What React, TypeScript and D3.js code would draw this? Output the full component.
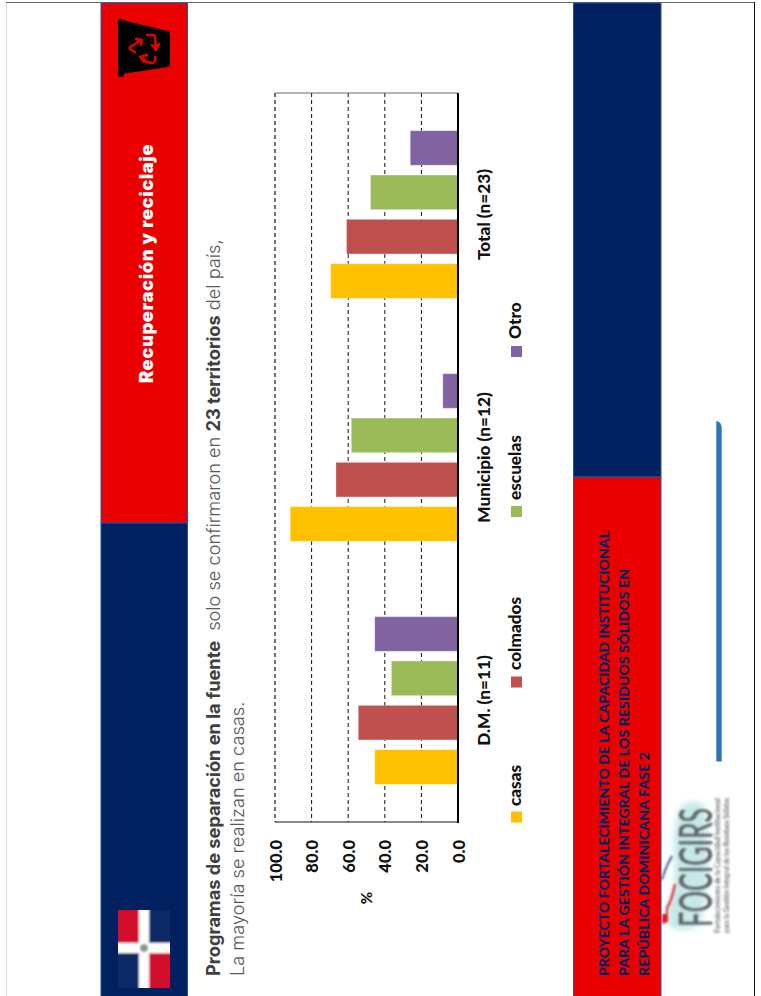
import React from "react";
import * as d3 from "d3";

const categories = ["D.M. (n=11)", "Municipio (n=12)", "Total (n=23)"];
const seriesNames = ["casas", "colmados", "escuelas", "Otro"];
const casas = [45.5, 91.7, 69.6];
const colmados = [54.5, 66.7, 60.9];
const escuelas = [36.4, 58.3, 47.8];
const otro = [45.5, 8.3, 26.1];
const seriesValues = [casas, colmados, escuelas, otro];
const seriesColors = ["#ffc000", "#c0504d", "#9bbb59", "#8064a2"];
const tickValues = [0, 20, 40, 60, 80, 100];
const legendPositions = [
  { swatch: 817, text: 806 },
  { swatch: 682, text: 670 },
  { swatch: 511.5, text: 500 },
  { swatch: 351.5, text: 339 },
];
const footerLines = [
  "PROYECTO FORTALECIMIENTO DE LA CAPACIDAD INSTITUCIONAL",
  "PARA LA GESTIÓN INTEGRAL DE LOS RESIDUOS SÓLIDOS EN",
  "REPÚBLICA DOMINICANA FASE 2",
];
const footerWidths = [445, 407, 224];

const RED = "#eb0000";
const NAVY = "#002060";
const EDGE = "#2f5597";
const LABEL_FONT = "Lato, Carlito, sans-serif";
const HEAD_FONT = "Inter, 'Open Sans', sans-serif";

// Vertical (page-rotated) text: reads bottom to top, anchored at (x, y).
const rot = (x: number, y: number) => `translate(${x},${y}) rotate(-90)`;

export default function App() {
  const x = d3.scaleLinear().domain([0, 100]).range([458, 275]);
  const group = d3.scaleBand().domain(categories).range([822, 93]);
  const inner = d3
    .scaleBand()
    .domain(seriesNames)
    .range([group.bandwidth(), 0])
    .paddingInner(0.22)
    .paddingOuter(0.85);

  return (
    <svg
      width={761}
      height={996}
      style={{ position: "absolute", left: 0, top: 0, background: "#fff" }}
    >
      <defs>
        <filter id="soft" x="-10%" y="-10%" width="120%" height="120%">
          <feGaussianBlur stdDeviation="0.8" />
        </filter>
        <filter id="flagBlur" x="-10%" y="-10%" width="120%" height="120%">
          <feGaussianBlur stdDeviation="1.1" />
        </filter>
        <filter id="softer" x="-20%" y="-20%" width="140%" height="140%">
          <feGaussianBlur stdDeviation="3" />
        </filter>
        <clipPath id="flagClip">
          <rect x={118} y={910} width={52} height={78} />
        </clipPath>
      </defs>

      {/* page frame */}
      <line x1={6.5} x2={6.5} y1={2} y2={996} stroke="#d9d9d9" />
      <line x1={6} x2={755} y1={2.5} y2={2.5} stroke="#666" />
      <line x1={754.5} x2={754.5} y1={2} y2={996} stroke="#111" />

      {/* left band */}
      <rect x={101} y={3} width={86.5} height={520} fill={RED} stroke={EDGE} />
      <rect x={101} y={523} width={86.5} height={474} fill={NAVY} stroke={EDGE} />
      {/* right band */}
      <rect x={573.5} y={3} width={87.5} height={474} fill={NAVY} stroke={EDGE} />
      <rect x={573.5} y={477} width={87.5} height={520} fill={RED} stroke={EDGE} />

      {/* bucket icon */}
      <g>
        <rect x={118} y={19} width={6} height={58} rx={3} fill="#000" />
        <path d="M122,20 L168,31 Q170,31.5 170,34 L170,64 Q170,66.5 168,67 L122,74 Z" fill="#000" />
        <g fill="none" stroke={RED} strokeWidth={2.4} strokeLinejoin="round" strokeLinecap="round">
          <path d="M147,35 L153,35 Q155,35 155,38 L156,47" />
          <path d="M152,45 L156,50 L159,44" />
          <path d="M155,57 Q156,63 152,63 L147,62 L142,58" />
          <path d="M147,55 L140,57 L144,62" />
          <path d="M135,52 L130,49 Q129,47 132,46 L141,40" />
          <path d="M136,39 L142,40 L141,45" />
        </g>
      </g>

      <text
        transform={rot(152.5, 383)}
        fontFamily={HEAD_FONT}
        fontWeight={900}
        fontSize={18.2}
        letterSpacing={0.65}
        fill="#fff"
      >
        Recuperación y reciclaje
      </text>

      {/* flag */}
      <g clipPath="url(#flagClip)">
        <g filter="url(#flagBlur)">
          <rect x={112} y={904} width={64} height={90} fill="#0b2a66" />
          <rect x={112} y={904} width={27} height={39} fill="#d0102a" />
          <rect x={149} y={953} width={27} height={41} fill="#d0102a" />
          <rect x={139} y={904} width={10} height={90} fill="#fff" />
          <rect x={112} y={943} width={64} height={10} fill="#fff" />
          <circle cx={144} cy={948} r={4} fill="#7f9a8f" />
        </g>
      </g>

      {/* heading */}
      <text
        transform={rot(220, 976)}
        fontFamily={HEAD_FONT}
        fontSize={18.2}
        fill="#595959"
        fontWeight={300}
      >
        <tspan fontWeight={700} fill="#404040">Programas de separación en la fuente</tspan>
        <tspan dx={5}>{" solo se confirmaron en "}</tspan>
        <tspan fontWeight={700} fill="#404040">23 territorios</tspan>
        <tspan> del país,</tspan>
      </text>
      <text
        transform={rot(244, 976)}
        fontFamily={HEAD_FONT}
        fontSize={18.2}
        fill="#595959"
        fontWeight={300}
      >
        La mayoría se realizan en casas.
      </text>

      {/* grid */}
      {tickValues.slice(1).map((t) => (
        <line
          key={t}
          x1={x(t)}
          x2={x(t)}
          y1={93}
          y2={822}
          stroke={t === 100 ? "#444" : "#111"}
          strokeWidth={t === 100 ? 1.5 : 1}
          strokeDasharray="4 3"
        />
      ))}
      <line x1={275} x2={458} y1={93} y2={93} stroke="#666" />
      <line x1={275} x2={458} y1={822} y2={822} stroke="#111" />

      {/* bars */}
      {categories.map((c, ci) => (
        <g key={c} transform={`translate(0,${group(c)})`}>
          {seriesNames.map((s, si) => {
            const v = seriesValues[si][ci];
            return (
              <rect
                key={s}
                x={x(v)}
                y={inner(s)}
                width={x(0) - x(v)}
                height={inner.bandwidth()}
                fill={seriesColors[si]}
                stroke="#fff"
                strokeOpacity={0.3}
              />
            );
          })}
        </g>
      ))}
      <line x1={458} x2={458} y1={93} y2={823} stroke="#000" strokeWidth={2} />

      {/* value axis */}
      {tickValues.map((t) => (
        <text
          key={t}
          transform={rot(x(t) + 6.5, 840)}
          textAnchor="end"
          fontFamily={LABEL_FONT}
          fontWeight={900}
          fontSize={16.5}
          fill="#111"
        >
          {t.toFixed(1)}
        </text>
      ))}
      <text
        transform={rot(372, 898)}
        textAnchor="middle"
        fontFamily={LABEL_FONT}
        fontWeight={900}
        fontSize={15}
        fill="#111"
      >
        %
      </text>

      {/* category axis */}
      {categories.map((c) => (
        <text
          key={c}
          transform={rot(490, group(c)! + group.bandwidth() / 2)}
          textAnchor="middle"
          fontFamily={LABEL_FONT}
          fontWeight={900}
          fontSize={17.2}
          fill="#111"
        >
          {c}
        </text>
      ))}

      {/* legend */}
      {seriesNames.map((s, i) => (
        <g key={s}>
          <rect x={511} y={legendPositions[i].swatch - 5.5} width={11} height={11} fill={seriesColors[i]} />
          <text
            transform={rot(521, legendPositions[i].text)}
            fontFamily={LABEL_FONT}
            fontWeight={900}
            fontSize={17.2}
            fill="#111"
          >
            {s}
          </text>
        </g>
      ))}

      {/* footer */}
      {footerLines.map((line, i) => (
        <text
          key={line}
          transform={rot(609 + i * 20, 976)}
          fontFamily={LABEL_FONT}
          fontWeight={900}
          fontSize={14}
          fill={NAVY}
          textLength={footerWidths[i]}
        >
          {line}
        </text>
      ))}

      {/* divider */}
      <path d="M716.3,761.5 V421 Q721.7,422 721.7,428 V761.5 Z" fill="#2e75b6" />

      {/* project logo */}
      <path
        d="M668,905 Q678,880 674,860 Q672,830 680,808 Q695,795 706,808 L708,860 Q708,900 700,925 Q680,935 668,925 Z"
        fill="#c5e8e8"
        filter="url(#softer)"
      />
      <g filter="url(#soft)">
        <path d="M662,922 Q668,915 667,908 Q672,900 675,884" fill="none" stroke="#d8232a" strokeWidth={2} />
        <path d="M662,914 L668,914 L668,922 L662,924 Z" fill="#d8232a" />
        <path d="M662,880 Q666,866 672,856" fill="none" stroke="#1f3f8f" strokeWidth={1.6} />
        <text
          transform={rot(712, 927)}
          fontFamily="'Liberation Sans Narrow', Lato, sans-serif"
          fontSize={47}
          fill="#5f6668"
          stroke="#5f6668"
          strokeWidth={0.5}
          textLength={119}
          lengthAdjust="spacingAndGlyphs"
        >
          FOCIGIRS
        </text>
        <text
          transform={rot(720, 933)}
          fontFamily={LABEL_FONT}
          fontSize={6.5}
          fontWeight={700}
          fill="#6a6f70"
          textLength={135}
          lengthAdjust="spacingAndGlyphs"
        >
          Fortalecimiento de la Capacidad Institucional
        </text>
        <text
          transform={rot(729, 933)}
          fontFamily={LABEL_FONT}
          fontSize={6.5}
          fontWeight={700}
          fill="#6a6f70"
          textLength={135}
          lengthAdjust="spacingAndGlyphs"
        >
          para la Gestión Integral de los Residuos Sólidos
        </text>
      </g>
    </svg>
  );
}
